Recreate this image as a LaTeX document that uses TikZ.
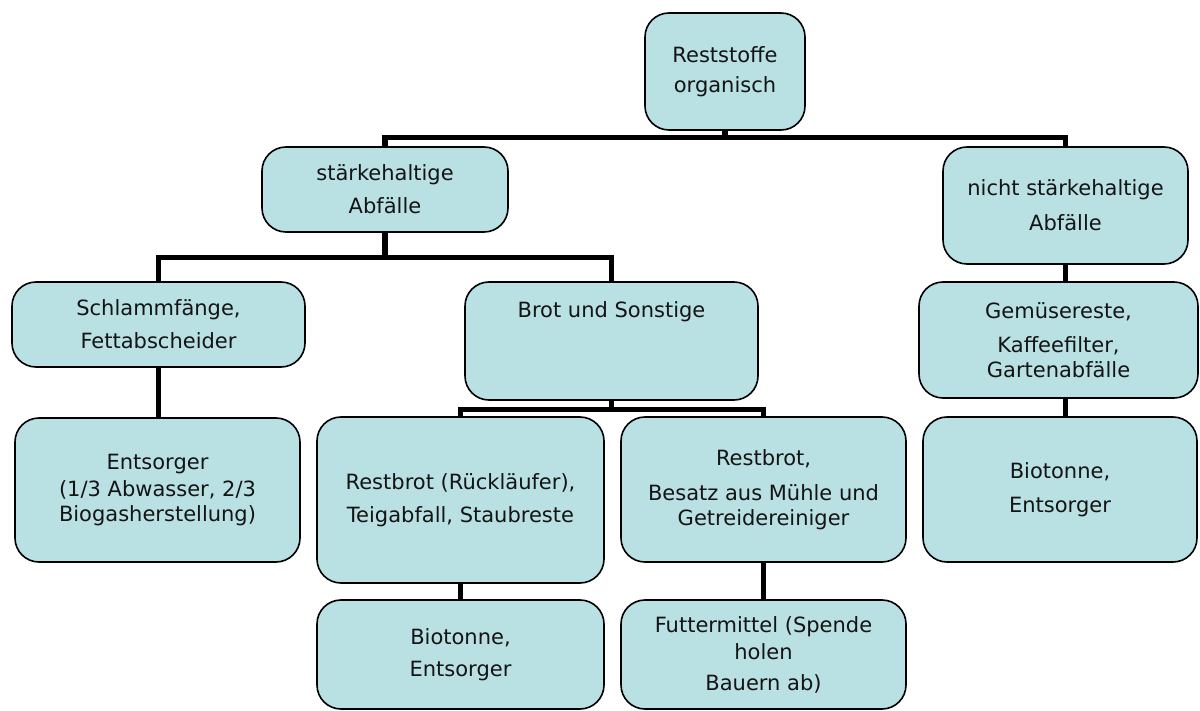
\documentclass[tikz,border=0pt]{standalone}
\usepackage{fontspec}
\setmainfont{DejaVu Sans}
\definecolor{BoxColor}{RGB}{185,224,227}
\definecolor{TextColor}{RGB}{20,20,20}
\tikzset{
    box/.style={rectangle, rounded corners=12pt, draw=black, line width=0.8pt, fill=BoxColor, align=center, inner sep=2pt, text=TextColor, font=\fontsize{10.5}{12.5}\selectfont},
    connection/.style={line width=2.6pt, draw=black}
}
\begin{document}
\begin{tikzpicture}[x=0.5pt, y=-0.5pt]
\useasboundingbox (0,0) rectangle (1200,711);

% Root
\node (root) [box, minimum width=80pt, minimum height=58.5pt] at (725,71.5) {Reststoffe\\[2.5pt]organisch};

% Second level
\node (starch) [box, minimum width=123pt, minimum height=42.5pt] at (385,189.5) {stärkehaltige\\[4pt]Abfälle};
\node (nonstarch) [box, minimum width=122.5pt, minimum height=58.5pt] at (1065.5,205.5) {nicht stärkehaltige\\[5pt]Abfälle};

% Third level
\node (sludge) [box, minimum width=146.5pt, minimum height=42.5pt] at (158.5,324.5) {Schlammfänge,\\[4pt]Fettabscheider};
\node (bread) [box, minimum width=146.5pt, inner ysep=0pt, text height=18pt, text depth=41pt] at (611.5,341) {Brot und Sonstige};
\node (veg) [box, minimum width=139.5pt, minimum height=58pt] at (1058.5,340) {Gemüsereste,\\[4.5pt]Kaffeefilter,\\Gartenabfälle};

% Fourth level
\node (disposal) [box, minimum width=142.5pt, minimum height=72pt] at (157.5,490) {Entsorger\\[1pt](1/3 Abwasser, 2/3\\Biogasherstellung)};
\node (rest1) [box, minimum width=143.5pt, minimum height=83pt] at (460.5,500) {Restbrot (Rückläufer),\\[4pt]Teigabfall, Staubreste};
\node (rest2) [box, minimum width=142.5pt, minimum height=72.5pt] at (763.5,489.5) {Restbrot,\\[5pt]Besatz aus Mühle und\\Getreidereiniger};
\node (binright) [box, minimum width=137pt, minimum height=72.5pt] at (1060,489.5) {Biotonne,\\[4.5pt]Entsorger};

% Bottom level
\node (binmid) [box, minimum width=143.5pt, minimum height=54.5pt] at (460.5,654.5) {Biotonne,\\[3.5pt]Entsorger};
\node (feed) [box, minimum width=142.5pt, minimum height=54.5pt] at (763.5,654.5) {Futtermittel (Spende\\[1pt]holen\\[3pt]Bauern ab)};

% Connections
\draw [connection] (root.south) -- ++(0,7) -| (starch.north);
\draw [connection] (root.south) -- ++(0,7) -| (nonstarch.north);
\draw [connection] (starch.south) -- ++(0,25) -| (sludge.north);
\draw [connection] (starch.south) -- ++(0,25) -| (bread.north);
\draw [connection] (bread.south) -- ++(0,9) -| (rest1.north);
\draw [connection] (bread.south) -- ++(0,9) -| (rest2.north);
\draw [connection] (sludge.south) -- (sludge.south |- disposal.north);
\draw [connection] (nonstarch.south) -- (nonstarch.south |- veg.north);
\draw [connection] (veg.south -| nonstarch.south) -- (binright.north -| nonstarch.south);
\draw [connection] (rest1) -- (binmid);
\draw [connection] (rest2) -- (feed);

\end{tikzpicture}
\end{document}
